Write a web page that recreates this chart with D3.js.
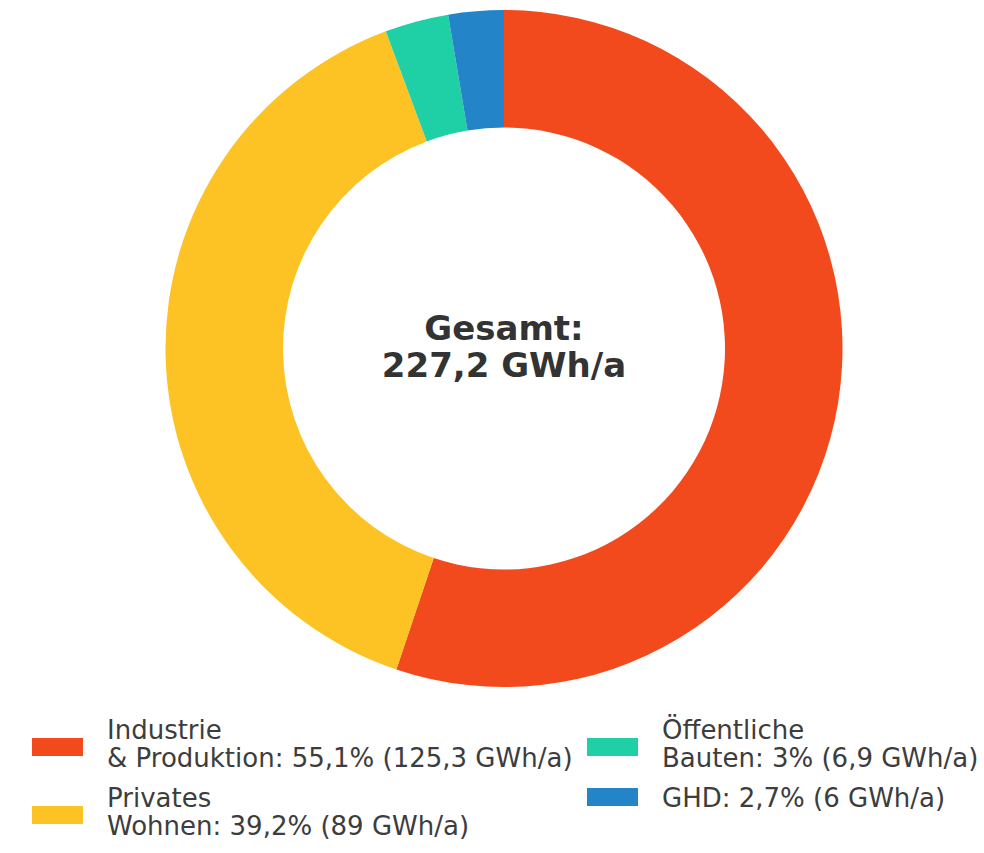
<!DOCTYPE html>
<html lang="de">
<head>
  <meta charset="UTF-8">
  <title>Energieverbrauch nach Sektoren</title>
  <script src="https://d3js.org/d3.v7.min.js"></script>
  <style>
    body {
      margin: 0;
      background-color: #ffffff;
    }
    svg text {
      font-family: "DejaVu Sans", sans-serif;
    }
  </style>
</head>
<body>

<div id="chart"></div>

<script>
  // data
  var sectors = ["Industrie & Produktion", "Privates Wohnen", "Öffentliche Bauten", "GHD"];
  var values = [125.3, 89, 6.9, 6];
  var colors = ["#F24A1C", "#FDC324", "#1FCFA6", "#2385C7"];
  var legendLines = [
    ["Industrie", "& Produktion: 55,1% (125,3 GWh/a)"],
    ["Privates", "Wohnen: 39,2% (89 GWh/a)"],
    ["Öffentliche", "Bauten: 3% (6,9 GWh/a)"],
    ["GHD: 2,7% (6 GWh/a)"]
  ];
  var legendColumn = [0, 0, 1, 1];
  var centerLines = ["Gesamt:", "227,2 GWh/a"];

  var width = 984, height = 853;
  var cx = 504, cy = 348.5;
  var outerR = 338.5, innerR = 221;

  var svg = d3.select("#chart")
    .append("svg")
    .attr("width", width)
    .attr("height", height);

  // donut, clockwise from 12 o'clock
  var pie = d3.pie()
    .sort(null)
    .value(function(d) { return d; });

  var arc = d3.arc()
    .innerRadius(innerR)
    .outerRadius(outerR);

  var g = svg.append("g")
    .attr("transform", "translate(" + cx + "," + cy + ")");

  g.selectAll("path")
    .data(pie(values))
    .enter()
    .append("path")
    .attr("d", arc)
    .attr("fill", function(d, i) { return colors[i]; });

  // center label
  g.selectAll("text.center")
    .data(centerLines)
    .enter()
    .append("text")
    .attr("class", "center")
    .attr("x", 0)
    .attr("y", function(d, i) { return -8.5 + i * 37; })
    .attr("text-anchor", "middle")
    .style("font-size", "34px")
    .style("font-weight", "bold")
    .style("fill", "#333333")
    .text(function(d) { return d; });

  // legend: two columns, entries stacked per column
  var colX = [32, 587];
  var firstBaseline = 739, lineH = 28, entryGap = 12;
  var colY = [firstBaseline, firstBaseline];

  var legend = svg.append("g");

  sectors.forEach(function(name, i) {
    var c = legendColumn[i];
    var lines = legendLines[i];
    var y0 = colY[c];
    var item = legend.append("g");

    var swatchMid = y0 - 10 + (lines.length - 1) * 18;
    item.append("rect")
      .attr("x", colX[c])
      .attr("y", swatchMid - 9)
      .attr("width", 51)
      .attr("height", 18)
      .attr("fill", colors[i]);

    item.selectAll("text")
      .data(lines)
      .enter()
      .append("text")
      .attr("x", colX[c] + 75)
      .attr("y", function(d, j) { return y0 + j * lineH; })
      .style("font-size", "26px")
      .style("fill", "#3d3d3d")
      .text(function(d) { return d; });

    colY[c] = y0 + lines.length * lineH + entryGap;
  });
</script>

</body>
</html>
